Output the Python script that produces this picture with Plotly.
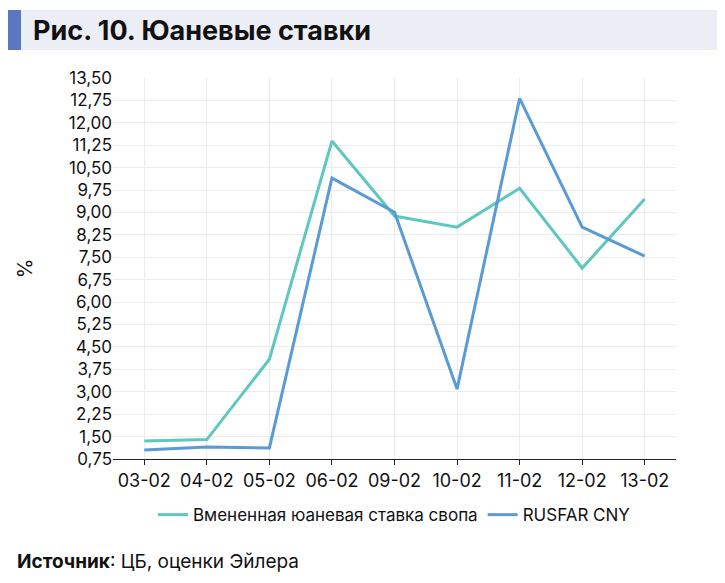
import plotly.graph_objects as go

categories = ["03-02","04-02","05-02","06-02","09-02","10-02","11-02","12-02","13-02"]
swap_rate = [1.35, 1.40, 4.09, 11.39, 8.88, 8.51, 9.81, 7.14, 9.45]
rusfar_cny = [1.05, 1.15, 1.12, 10.15, 9.01, 3.09, 12.82, 8.51, 7.54]
tick_vals = [0.75 + 0.75*i for i in range(18)]
tick_text = [f"{v:.2f}".replace(".", ",") for v in tick_vals]

fig = go.Figure()
fig.add_trace(go.Scatter(x=categories, y=swap_rate, mode="lines", name="Вмененная юаневая ставка свопа",
                         line=dict(color="#5ec8c0", width=3)))
fig.add_trace(go.Scatter(x=categories, y=rusfar_cny, mode="lines", name="RUSFAR CNY",
                         line=dict(color="#5b9bd5", width=3)))
fig.update_layout(
    width=725, height=583, paper_bgcolor="white", plot_bgcolor="white",
    margin=dict(l=105, r=57, t=70, b=132),
    font=dict(family="Inter, Roboto, sans-serif", size=17, color="#111"),
    showlegend=True,
    legend=dict(orientation="h", x=0.5, xanchor="center", y=-0.1, yanchor="top", font=dict(size=17)),
    xaxis=dict(type="category", range=[-0.5, 8.5], showgrid=True, gridcolor="#ececec", showline=True,
               linecolor="#222", ticks="outside", ticklen=5, tickcolor="#222", tickfont=dict(size=18)),
    yaxis=dict(range=[0.75, 13.5], tickvals=tick_vals, ticktext=tick_text, showgrid=True,
               gridcolor="#ececec", title=dict(text="%", standoff=30)),
    shapes=[
        dict(type="rect", xref="paper", yref="paper", x0=-105/563, x1=1+57/563, y0=1+(70-42)/381, y1=1+(70-2)/381,
             fillcolor="#eceef5", line=dict(width=0), layer="below"),
        dict(type="rect", xref="paper", yref="paper", x0=-105/563, x1=-92/563, y0=1+(70-42)/381, y1=1+(70-2)/381,
             fillcolor="#5a78c0", line=dict(width=0)),
    ],
    annotations=[
        dict(text="<b>Рис. 10. Юаневые ставки</b>", xref="paper", yref="paper", x=-82/563, y=1+(70-22)/381,
             xanchor="left", yanchor="middle", showarrow=False, font=dict(size=27, color="#111")),
        dict(text="<b>Источник</b>: ЦБ, оценки Эйлера", xref="paper", yref="paper", x=-98/563, y=-(553-451)/381,
             xanchor="left", yanchor="middle", showarrow=False, font=dict(size=19, color="#111")),
    ],
)
fig.write_html("out.html")
